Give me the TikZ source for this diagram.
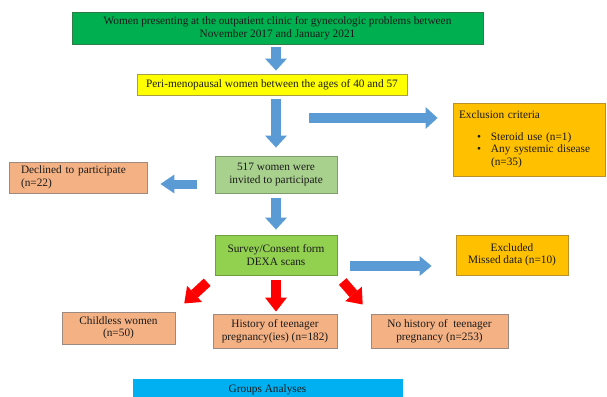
\documentclass[tikz,border=0pt]{standalone}
\usepackage{fontspec}
\setmainfont{Liberation Serif}
\usepackage{xcolor}
\usepackage{tikz}
\usetikzlibrary{arrows.meta}
\definecolor{flowGreen}{HTML}{00B050}
\definecolor{flowGreenEdge}{HTML}{2E7D46}
\definecolor{flowYellow}{HTML}{FFFF00}
\definecolor{flowYellowEdge}{HTML}{A8A040}
\definecolor{flowAmber}{HTML}{FFC000}
\definecolor{flowAmberEdge}{HTML}{B8912A}
\definecolor{flowSalmon}{HTML}{F4B183}
\definecolor{flowSalmonEdge}{HTML}{9C8A80}
\definecolor{paleGreen}{HTML}{A9D18E}
\definecolor{paleGreenEdge}{HTML}{7E9E6A}
\definecolor{leafGreen}{HTML}{92D050}
\definecolor{leafGreenEdge}{HTML}{6E9E3E}
\definecolor{flowSky}{HTML}{00B0F0}
\definecolor{arrowBlue}{HTML}{5B9BD5}
\definecolor{arrowRed}{HTML}{FF0000}
\definecolor{inkDark}{HTML}{1A1A1A}

\begin{document}
\begin{tikzpicture}[x=1pt, y=-1pt,
    flowbox/.style={draw, line width=0.9pt, inner sep=2pt, align=center, text=inkDark, font=\fontsize{11.3}{12.5}\selectfont},
    blueArrow/.style={draw=arrowBlue, line width=10pt, -{Triangle[width=22pt, length=12pt, line width=0pt]}},
    redArrow/.style={draw=arrowRed, line width=10pt, -{Triangle[width=22pt, length=14pt, line width=0pt]}}]

    \useasboundingbox (0,0) rectangle (607,396);

    \node (women) [flowbox, fill=flowGreen, draw=flowGreenEdge, minimum width=411pt, minimum height=32pt] at (277.5,28) {Women presenting at the outpatient clinic for gynecologic problems between \\ November 2017 and January 2021};

    \node (peri) [flowbox, fill=flowYellow, draw=flowYellowEdge, minimum width=270pt, minimum height=21pt] at (272,84.5) {Peri-menopausal women between the ages of 40 and 57};

    \node (excl) [flowbox, fill=flowAmber, draw=flowAmberEdge, align=left, inner xsep=6pt, text width=140pt, minimum height=73pt] at (529,139.5) {Exclusion criteria \\[9pt]
        \hspace*{18pt}\textbullet\hspace{10pt}Steroid use (n=1) \\
        \hspace*{18pt}\textbullet\hspace{10pt}Any systemic disease \\
        \hspace*{32pt}(n=35)};

    \node (declined) [flowbox, fill=flowSalmon, draw=flowSalmonEdge, align=left, inner xsep=12pt, text width=114pt, minimum height=31pt] at (78,177.5) {Declined to participate \\ (n=22)};

    \node (invited) [flowbox, fill=paleGreen, draw=paleGreenEdge, minimum width=122pt, minimum height=37pt] at (276,174.5) {517 women were \\ invited to participate};

    \node (survey) [flowbox, fill=leafGreen, draw=leafGreenEdge, minimum width=122pt, minimum height=40pt] at (276,255) {Survey/Consent form \\ DEXA scans};

    \node (excluded) [flowbox, fill=flowAmber, draw=flowAmberEdge, minimum width=112pt, minimum height=40pt] at (512,255) {Excluded \\ Missed data (n=10)};

    \node (childless) [flowbox, fill=flowSalmon, draw=flowSalmonEdge, minimum width=113pt, minimum height=32pt] at (118.5,328) {Childless women \\ (n=50)};

    \node (history) [flowbox, fill=flowSalmon, draw=flowSalmonEdge, minimum width=124pt, minimum height=34pt] at (275,331) {History of teenager \\ pregnancy(ies) (n=182)};

    \node (nohistory) [flowbox, fill=flowSalmon, draw=flowSalmonEdge, minimum width=137pt, minimum height=34pt] at (439.5,331) {No history of~ teenager \\ pregnancy (n=253)};

    \node (groups) [flowbox, fill=flowSky, draw=flowSky, minimum width=269pt, minimum height=21pt] at (267.5,389.5) {Groups Analyses};

    \coordinate (fork) at (309,118);

    % blue flow arrows
    \draw[blueArrow, shorten <=3pt, shorten >=3pt] (women.south -| invited.north) -- (peri.north -| invited.north);
    \draw[blueArrow, shorten <=4pt, shorten >=8pt] (peri.south -| invited.north) -- (invited.north);
    \draw[blueArrow, shorten >=15pt] (fork) -- (fork -| excl.west);
    \draw[blueArrow, line width=9pt, -{Triangle[width=19pt, length=14pt, line width=0pt]}, shorten <=18pt, shorten >=13pt] ([yshift=-9.5pt]invited.west) -- ([yshift=-6.5pt]declined.east);
    \draw[blueArrow, shorten <=5pt, shorten >=5pt] (invited) -- (survey);
    \draw[blueArrow, -{Triangle[width=20pt, length=12pt, line width=0pt]}, shorten <=13pt, shorten >=24pt] ([yshift=-11pt]survey.east) -- ([yshift=-11pt]excluded.west);

    % red split arrows
    \draw[redArrow, shorten <=10pt, shorten >=12pt] (survey.south west) -- (childless.north east);
    \draw[redArrow, shorten <=5pt, shorten >=2pt] (survey.south) -- (survey.south |- history.north);
    \draw[redArrow, shorten <=8pt, shorten >=12pt] (survey.south east) -- (nohistory.north west);
\end{tikzpicture}
\end{document}
